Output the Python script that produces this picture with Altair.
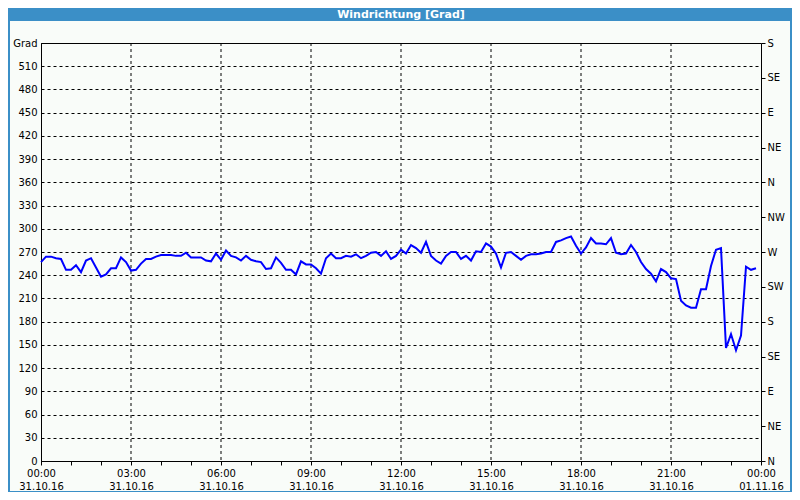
import altair as alt
import pandas as pd

TITLE = "Windrichtung [Grad]"
START = "2016-10-31 00:00"

# wind direction in degrees, one reading every 10 minutes from 00:00
direction = [
    257, 264, 264, 262, 261, 247, 247, 253, 244, 259, 262, 250,
    238, 241, 249, 249, 263, 257, 246, 247, 255, 261, 261, 264,
    266, 266, 266, 265, 265, 269, 263, 263, 263, 259, 258, 268,
    260, 272, 265, 263, 259, 265, 260, 258, 257, 248, 249, 263,
    256, 247, 247, 241, 258, 254, 254, 249, 242, 262, 268, 262,
    262, 265, 264, 267, 262, 265, 269, 270, 265, 271, 261, 265,
    273, 268, 279, 275, 269, 283, 265, 259, 255, 265, 270, 270,
    261, 265, 259, 271, 270, 281, 277, 268, 250, 269, 270, 265,
    260, 265, 267, 267, 268, 270, 270, 283, 285, 288, 290, 278,
    268, 276, 288, 281, 281, 280, 288, 269, 267, 268, 279, 270,
    257, 248, 242, 232, 248, 244, 236, 235, 207, 201, 198, 198,
    222, 222, 252, 273, 275, 146, 164, 143, 162, 251, 247, 249,
]
times = pd.date_range(START, periods=len(direction), freq="10min").strftime("%Y-%m-%dT%H:%M:%S")

grid_hours = [3, 6, 9, 12, 15, 18, 21]
left_ticks = list(range(0, 541, 30))
right_ticks = list(range(0, 541, 45))
compass = ["N", "NE", "E", "SE", "S", "SW", "W", "NW"]

df = pd.DataFrame({"t": list(times), "deg": direction})
grid_df = pd.DataFrame({"t": ["2016-10-31T%02d:00:00" % h for h in grid_hours]})

def dt(h):
    if h < 24:
        return alt.DateTime(year=2016, month=10, date=31, hours=h)
    return alt.DateTime(year=2016, month=11, date=1, hours=h - 24)

hour_values = [dt(h) for h in range(0, 25)]
xscale = alt.Scale(domain=[dt(0), dt(24)], nice=False)
yscale = alt.Scale(domain=[0, 540], nice=False, zero=False)

FONT = "DejaVu Sans"
BLUE_BAR = "#3b8fc7"

x_axis = alt.Axis(
    orient="bottom", values=hour_values, grid=False, tickSize=4, ticks=True,
    labelExpr="hours(datum.value) % 3 == 0 ? [timeFormat(datum.value, '%H:%M'), timeFormat(datum.value, '%d.%m.%y')] : ''",
    labelOverlap=False, labelFlush=False, labelBaseline="top", labelLineHeight=13,
    labelPadding=3, labelAlign="center", title=None, domainColor="black",
)
left_axis = alt.Axis(
    orient="left", values=left_ticks, ticks=False, grid=True, gridDash=[3, 3],
    gridColor="black", gridOpacity=1, labelPadding=4, title=None,
    labelExpr="datum.value == 540 ? 'Grad' : datum.label", domainColor="black",
)
compass_js = "[" + ",".join("'%s'" % c for c in compass) + "]"
right_axis = alt.Axis(
    orient="right", values=right_ticks, ticks=True, tickSize=4, grid=False,
    domain=False, labelPadding=2, title=None,
    labelExpr=compass_js + "[round(datum.value / 45) % 8]",
)

one = alt.Data(values=[{"a": 1}])

bar = alt.Chart(one).mark_rect(color=BLUE_BAR).encode(
    x=alt.value(-33), x2=alt.value(751), y=alt.value(-35), y2=alt.value(-22))
title = alt.Chart(one).mark_text(
    text=TITLE, color="white", font=FONT, fontSize=11, fontWeight="bold",
    align="center", baseline="middle").encode(x=alt.value(360), y=alt.value(-28))
frame_l = alt.Chart(one).mark_rect(color=BLUE_BAR).encode(
    x=alt.value(-33), x2=alt.value(-31), y=alt.value(-22), y2=alt.value(449))
frame_r = alt.Chart(one).mark_rect(color=BLUE_BAR).encode(
    x=alt.value(749), x2=alt.value(751), y=alt.value(-22), y2=alt.value(449))
frame_b = alt.Chart(one).mark_rect(color=BLUE_BAR).encode(
    x=alt.value(-33), x2=alt.value(751), y=alt.value(448), y2=alt.value(449))

line = alt.Chart(df).mark_line(color="#0000ff", strokeWidth=2).encode(
    x=alt.X("t:T", scale=xscale, axis=x_axis),
    y=alt.Y("deg:Q", scale=yscale, axis=left_axis),
)
vgrid = alt.Chart(grid_df).mark_rule(color="black", strokeDash=[3, 3], strokeWidth=1).encode(
    x=alt.X("t:T", scale=xscale, axis=x_axis))
right = alt.Chart(df).mark_point(opacity=0).encode(
    x=alt.X("t:T", scale=xscale, axis=x_axis),
    y=alt.Y("deg:Q", scale=yscale, axis=right_axis),
)

chart = alt.layer(vgrid, line, right, bar, title, frame_l, frame_r, frame_b).resolve_axis(
    y="independent"
).properties(
    width=720, height=418,
    padding={"left": 33, "top": 35, "right": 31, "bottom": 31},
    autosize=alt.AutoSizeParams(type="none"),
    background="#f9fcf9",
).configure_view(
    stroke="black", strokeWidth=1, fill="#f9fcf9",
).configure_axis(
    labelFont=FONT, labelFontSize=10, labelColor="black", tickColor="black",
)

chart.save("out.html", embed_options={"renderer": "svg", "actions": False})
